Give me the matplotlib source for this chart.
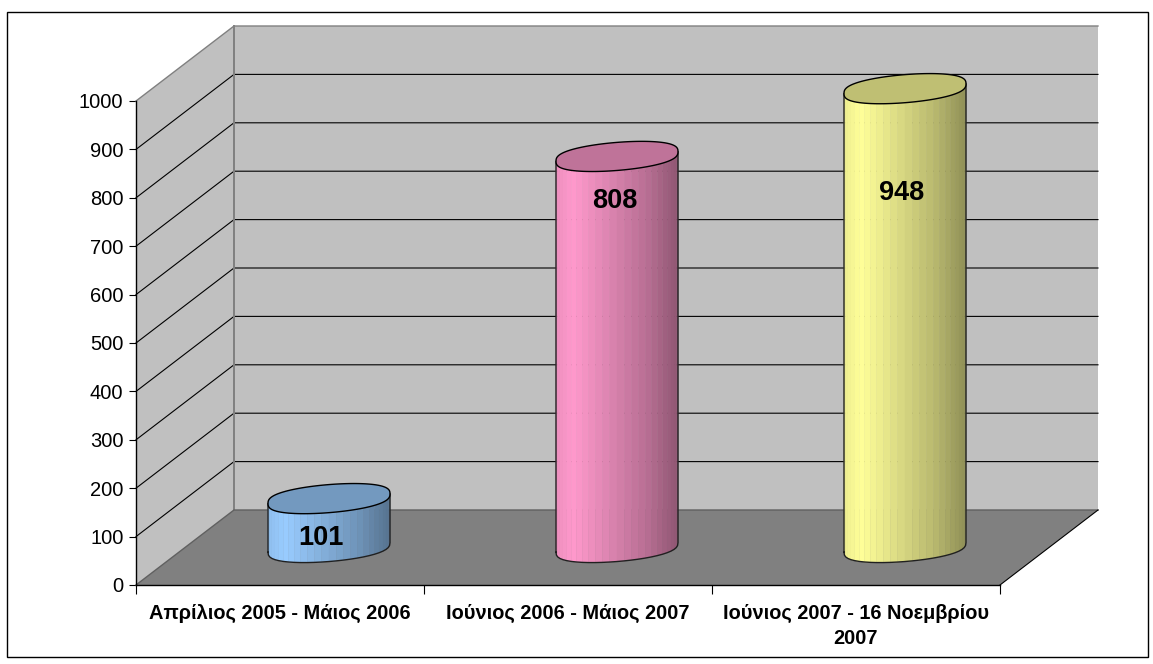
import numpy as np
import matplotlib
matplotlib.use("Agg")
import matplotlib.pyplot as plt
from matplotlib.patches import Polygon, Rectangle

plt.rcParams['font.family'] = ['Liberation Sans', 'DejaVu Sans']

categories = ["Απρίλιος 2005 - Μάιος 2006",
              "Ιούνιος 2006 - Μάιος 2007",
              "Ιούνιος 2007 - 16 Νοεμβρίου\n2007"]
values = [101, 808, 948]
y_ticks = [0, 100, 200, 300, 400, 500, 600, 700, 800, 900, 1000]
colors = ["#99CCFF", "#FF99CC", "#FFFF99"]

W, H = 1153, 664
fig = plt.figure(figsize=(W / 100, H / 100), dpi=100, facecolor="white")
ax = fig.add_axes([136 / W, (H - 585) / H, 864 / W, 484 / H])
ax.set_xlim(0, 3)
ax.set_ylim(0, 1000)
ax.patch.set_visible(False)

# depth of the fake 3d box, in data units
dx = 98 / 288
dy = 75 / 0.484
LW = 0.8

# walls and floor
ax.add_patch(Polygon([(0, 0), (dx, dy), (dx, 1000 + dy), (0, 1000)], fc="#C0C0C0", ec="none", clip_on=False, zorder=1))
ax.add_patch(Polygon([(dx, dy), (3 + dx, dy), (3 + dx, 1000 + dy), (dx, 1000 + dy)], fc="#C0C0C0", ec="none", clip_on=False, zorder=1))
ax.add_patch(Polygon([(0, 0), (3, 0), (3 + dx, dy), (dx, dy)], fc="#808080", ec="none", clip_on=False, zorder=1))

for v in y_ticks[1:-1]:
    ax.plot([0, dx, 3 + dx], [v, v + dy, v + dy], color="black", lw=LW, clip_on=False, zorder=2)
ax.plot([0, dx, 3 + dx], [1000, 1000 + dy, 1000 + dy], color="#808080", lw=LW + 0.2, clip_on=False, zorder=2)
ax.plot([dx, dx], [dy, 1000 + dy], color="#808080", lw=1.4, clip_on=False, zorder=2)
ax.plot([0, dx, 3 + dx], [0, dy, dy], color="#606060", lw=1.0, clip_on=False, zorder=2)
ax.plot([3, 3 + dx], [0, dy], color="black", lw=LW, clip_on=False, zorder=2)

# cylinders
a = 61 / 288
b = 29.0
tilt = 10.0
n_strips = 26
t = np.linspace(np.pi, 2 * np.pi, n_strips + 1)
t_all = np.linspace(0, 2 * np.pi, 121)


def shade(frac):
    return np.interp(frac, [0, 0.14, 0.4, 0.75, 1], [0.93, 1.0, 0.88, 0.72, 0.56])


def ring(angle):
    # slightly fuller than a true ellipse, like the excel cylinders
    s = np.sin(angle)
    return tilt * np.cos(angle) + b * np.sign(s) * np.abs(s) ** 0.75


for i, (val, col) in enumerate(zip(values, colors)):
    cx = i + 0.5 + dx / 2
    base = np.array(matplotlib.colors.to_rgb(col))
    y0 = dy / 2
    y1 = val + dy / 2
    xs = cx + a * np.cos(t)
    arc = ring(t)
    for j in range(n_strips):
        frac = (0.5 * (xs[j] + xs[j + 1]) - (cx - a)) / (2 * a)
        c = np.clip(base * shade(frac), 0, 1)
        pts = [(xs[j], y0 + arc[j]), (xs[j + 1], y0 + arc[j + 1]),
               (xs[j + 1], y1 + arc[j + 1]), (xs[j], y1 + arc[j])]
        ax.add_patch(Polygon(pts, fc=c, ec=c, lw=0.3, clip_on=False, zorder=3))
    outline = np.r_[y0 + arc, [y1 + arc[-1]], [y1 + arc[0]], [y0 + arc[0]]]
    ox = np.r_[xs, [xs[-1]], [xs[0]], [xs[0]]]
    ax.plot(ox, outline, color="#202020", lw=1.0, clip_on=False, zorder=4)
    top_x = cx + a * np.cos(t_all)
    top_y = y1 + ring(t_all)
    ax.add_patch(Polygon(np.c_[top_x, top_y], fc=base * 0.75, ec="black", lw=1.0, clip_on=False, zorder=5))

# data labels sit at their own spot on each cylinder
label_x = [0.641, 1.662, 2.659]
label_y = [97, 793, 810]
for x, y, val in zip(label_x, label_y, values):
    ax.text(x, y, str(val), ha="center", va="center", fontsize=19.5, fontweight="bold", color="black", zorder=6)

# axes
for s in ["top", "right"]:
    ax.spines[s].set_visible(False)
for s in ["left", "bottom"]:
    ax.spines[s].set_linewidth(LW + 0.2)
    ax.spines[s].set_zorder(2.5)
ax.set_yticks(y_ticks)
ax.tick_params(axis="y", length=5, width=LW, pad=4, labelsize=14.5)
ax.set_xticks([0, 1, 2, 3])
ax.set_xticklabels([])
ax.tick_params(axis="x", which="major", length=6.5, width=LW)
ax.set_xticks([0.5, 1.5, 2.5], minor=True)
ax.set_xticklabels(categories, minor=True, fontsize=14.4, fontweight="bold", linespacing=1.4)
ax.tick_params(axis="x", which="minor", length=0, pad=13.5)

# chart border
fig.add_artist(Rectangle((6.5 / W, (H - 657) / H), 1141 / W, 645 / H, transform=fig.transFigure,
                         fc="none", ec="black", lw=1.0))

fig.savefig("out.png", dpi=100)
